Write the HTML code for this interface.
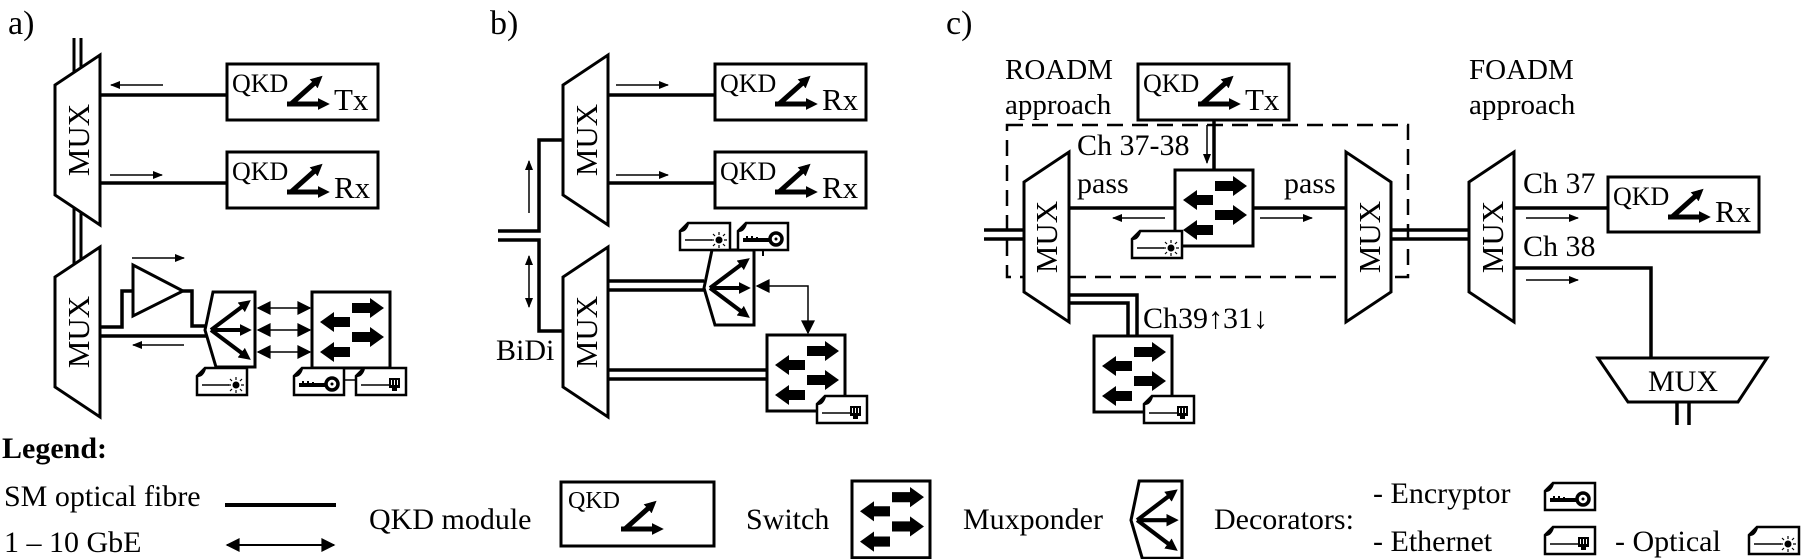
<!DOCTYPE html>
<html><head><meta charset="utf-8"><style>
html,body{margin:0;padding:0;background:#fff;}
svg{display:block;font-family:"Liberation Serif",serif;}
</style></head><body>
<svg width="1804" height="559" viewBox="0 0 1804 559" xmlns="http://www.w3.org/2000/svg">
<defs>
<marker id="ah" viewBox="0 0 10 8" refX="9" refY="4" markerWidth="12" markerHeight="8" markerUnits="userSpaceOnUse" orient="auto-start-reverse"><path d="M0,0 L10,4 L0,8 Z" fill="#000"/></marker>
<marker id="ah2" viewBox="0 0 10 10" refX="9" refY="5" markerWidth="16" markerHeight="14" markerUnits="userSpaceOnUse" orient="auto-start-reverse"><path d="M0,0 L10,5 L0,10 Z" fill="#000"/></marker>
<marker id="fh" viewBox="0 0 10 10" refX="6" refY="5" markerWidth="12" markerHeight="12" markerUnits="userSpaceOnUse" orient="auto"><path d="M0,0 L10,5 L0,10 Z" fill="#000"/></marker>
<g id="qa">
<path d="M64,40 L92,15" stroke="#000" stroke-width="5" fill="none" marker-end="url(#fh)"/>
<path d="M60,40 L98,40" stroke="#000" stroke-width="5" fill="none" marker-end="url(#fh)"/>
</g>
<g id="sw">
<rect x="0" y="0" width="78" height="76" fill="#fff" stroke="#000" stroke-width="3"/>
<path d="M40,11 H58 V6 L72,16 L58,26 V21 H40 Z M40,40 H58 V35 L72,45 L58,55 V50 H40 Z" fill="#000"/>
<path d="M38,25 H22 V20 L8,30 L22,40 V35 H38 Z M38,55 H22 V50 L8,60 L22,70 V65 H38 Z" fill="#000"/>
</g>
<g id="mp">
<path d="M8,0 H50 V75 H11 L0,38 Z" fill="#fff" stroke="#000" stroke-width="3"/>
<path d="M6,38 L42,11" stroke="#000" stroke-width="4" fill="none" marker-end="url(#fh)"/>
<path d="M6,38 L42,38" stroke="#000" stroke-width="4" fill="none" marker-end="url(#fh)"/>
<path d="M6,38 L42,65" stroke="#000" stroke-width="4" fill="none" marker-end="url(#fh)"/>
</g>
<path id="dframe" d="M9,1 H51 V28 H1 V9 Z M1,9 Q7,9 9,1" fill="#fff" stroke="#000" stroke-width="2.5"/>
<g id="opt"><use href="#dframe"/><path d="M6,18 H33" stroke="#000" stroke-width="1.5"/><circle cx="40" cy="18" r="3.5" fill="#000"/><path d="M40,10 V13 M40,23 V26 M32,18 H35 M45,18 H48 M34,12 L36,14 M44,22 L46,24 M46,12 L44,14 M34,24 L36,22" stroke="#000" stroke-width="1.2"/></g>
<g id="key"><use href="#dframe"/><path d="M6,18 H32" stroke="#000" stroke-width="4"/><path d="M10,18 V14 M15,18 V14 M20,18 V15" stroke="#000" stroke-width="2"/><circle cx="39" cy="17" r="6" fill="#fff" stroke="#000" stroke-width="3.5"/><circle cx="39" cy="17" r="1.5" fill="#000"/></g>
<g id="eth"><use href="#dframe"/><path d="M6,18 H34" stroke="#000" stroke-width="1.5"/><rect x="34" y="11" width="11" height="10" fill="#000"/><rect x="37" y="21" width="5" height="3" fill="#000"/><path d="M36.5,13 V18 M39.5,13 V18 M42.5,13 V18" stroke="#fff" stroke-width="1"/></g>
</defs>

<g font-size="34"><text x="8" y="34">a)</text><text x="490" y="34">b)</text><text x="946" y="34">c)</text></g>

<!-- ===== Panel a ===== -->
<g stroke="#000" fill="none">
<path d="M74,38 V270 M81,38 V270" stroke-width="3"/>
<path d="M100,55 V225 L55,195 V85 Z" fill="#fff" stroke-width="3"/>
<path d="M100,247 V417 L55,387 V277 Z" fill="#fff" stroke-width="3"/>
<path d="M100,95 H227 M100,183 H227" stroke-width="3.5"/>
<rect x="227" y="64" width="151" height="56" fill="#fff" stroke-width="3"/>
<rect x="227" y="152" width="151" height="56" fill="#fff" stroke-width="3"/>
<path d="M100,327 H122 V291 H133 M183,291 H192 V326 H205 M100,336 H206" stroke-width="3.5"/>
<path d="M133,265 V316 L183,291 Z" fill="#fff" stroke-width="3"/>
</g>
<g stroke="#000" stroke-width="1.5">
<line x1="163" y1="85" x2="111" y2="85" marker-end="url(#ah)"/>
<line x1="110" y1="175" x2="162" y2="175" marker-end="url(#ah)"/>
<line x1="132" y1="258" x2="184" y2="258" marker-end="url(#ah)"/>
<line x1="184" y1="345" x2="133" y2="345" marker-end="url(#ah)"/>
<line x1="258" y1="308" x2="310" y2="308" marker-start="url(#ah2)" marker-end="url(#ah2)"/>
<line x1="258" y1="330" x2="310" y2="330" marker-start="url(#ah2)" marker-end="url(#ah2)"/>
<line x1="258" y1="352" x2="310" y2="352" marker-start="url(#ah2)" marker-end="url(#ah2)"/>
<line x1="345" y1="380" x2="356" y2="380"/>
</g>
<use href="#qa" x="227" y="64"/><use href="#qa" x="227" y="152"/>
<text x="232" y="92" font-size="26">QKD</text><text x="334" y="110" font-size="31">Tx</text>
<text x="232" y="180" font-size="26">QKD</text><text x="334" y="198" font-size="31">Rx</text>
<text transform="translate(89,140) rotate(-90)" font-size="31" text-anchor="middle">MUX</text>
<text transform="translate(89,332) rotate(-90)" font-size="31" text-anchor="middle">MUX</text>
<use href="#mp" x="205" y="292"/>
<use href="#sw" x="312" y="292"/>
<use href="#opt" x="196" y="367"/><use href="#key" x="293" y="367"/><use href="#eth" x="355" y="367"/>

<!-- ===== Panel b ===== -->
<g stroke="#000" fill="none">
<path d="M498,231 H539 V140 H563 M498,240 H539 V331 H563" stroke-width="3.5"/>
<path d="M608,55 V225 L563,195 V85 Z" fill="#fff" stroke-width="3"/>
<path d="M608,247 V417 L563,387 V277 Z" fill="#fff" stroke-width="3"/>
<path d="M608,95 H715 M608,183 H715" stroke-width="3.5"/>
<path d="M608,281 H704 M608,290 H706 M608,370 H767 M608,379 H767" stroke-width="3.5"/>
<rect x="715" y="64" width="151" height="56" fill="#fff" stroke-width="3"/>
<rect x="715" y="152" width="151" height="56" fill="#fff" stroke-width="3"/>
<path d="M731,250 V256 M763,250 V256" stroke-width="2"/>
</g>
<g stroke="#000" stroke-width="1.5" fill="none">
<line x1="616" y1="85" x2="668" y2="85" marker-end="url(#ah)"/>
<line x1="616" y1="175" x2="668" y2="175" marker-end="url(#ah)"/>
<line x1="529" y1="213" x2="529" y2="161" marker-end="url(#ah)"/>
<line x1="529" y1="256" x2="529" y2="307" marker-start="url(#ah)" marker-end="url(#ah)"/>
<path d="M757,286 H808 V333" marker-start="url(#ah2)" marker-end="url(#ah2)"/>
</g>
<use href="#qa" x="715" y="64"/><use href="#qa" x="715" y="152"/>
<text x="720" y="92" font-size="26">QKD</text><text x="822" y="110" font-size="31">Rx</text>
<text x="720" y="180" font-size="26">QKD</text><text x="822" y="198" font-size="31">Rx</text>
<text transform="translate(597,140) rotate(-90)" font-size="31" text-anchor="middle">MUX</text>
<text transform="translate(597,332) rotate(-90)" font-size="31" text-anchor="middle">MUX</text>
<text x="496" y="360" font-size="30">BiDi</text>
<use href="#mp" x="704" y="250"/>
<use href="#opt" x="679" y="222"/><use href="#key" x="737" y="222"/>
<use href="#sw" x="767" y="335"/>
<use href="#eth" x="816" y="395"/>

<!-- ===== Panel c ===== -->
<text x="1005" y="79" font-size="29">ROADM</text><text x="1005" y="114" font-size="29">approach</text>
<text x="1469" y="79" font-size="29">FOADM</text><text x="1469" y="114" font-size="29">approach</text>
<g stroke="#000" fill="none">
<rect x="1007" y="125" width="401" height="152" stroke-width="2.5" stroke-dasharray="16,9"/>
<path d="M984,230 H1024 M984,239 H1024 M1391,230 H1469 M1391,239 H1469" stroke-width="3.5"/>
<path d="M1069,152 V322 L1024,292 V182 Z" fill="#fff" stroke-width="3"/>
<path d="M1346,152 V322 L1391,292 V182 Z" fill="#fff" stroke-width="3"/>
<path d="M1214,120 V170" stroke-width="3.5"/>
<path d="M1069,208 H1175 M1252,208 H1346" stroke-width="3.5"/>
<path d="M1069,295 H1137 V335 M1069,303 H1128 V335" stroke-width="3.5"/>
<path d="M1514,152 V322 L1469,292 V182 Z" fill="#fff" stroke-width="3"/>
<path d="M1514,208 H1608 M1514,268 H1651 V358" stroke-width="3.5"/>
<path d="M1598,358 H1767 L1738,402 H1628 Z" fill="#fff" stroke-width="3"/>
<path d="M1677,402 V425 M1689,402 V425" stroke-width="3.5"/>
</g>
<rect x="1138" y="64" width="151" height="56" fill="#fff" stroke="#000" stroke-width="3"/>
<rect x="1608" y="177" width="151" height="55" fill="#fff" stroke="#000" stroke-width="3"/>
<use href="#qa" x="1138" y="64"/><use href="#qa" x="1608" y="177"/>
<text x="1143" y="92" font-size="26">QKD</text><text x="1245" y="110" font-size="31">Tx</text>
<text x="1613" y="205" font-size="26">QKD</text><text x="1715" y="222" font-size="31">Rx</text>
<g stroke="#000" stroke-width="1.5">
<line x1="1207" y1="125" x2="1207" y2="163" marker-end="url(#ah)"/>
<line x1="1165" y1="218" x2="1113" y2="218" marker-end="url(#ah)"/>
<line x1="1260" y1="218" x2="1312" y2="218" marker-end="url(#ah)"/>
<line x1="1526" y1="218" x2="1578" y2="218" marker-end="url(#ah)"/>
<line x1="1526" y1="280" x2="1578" y2="280" marker-end="url(#ah)"/>
</g>
<text x="1077" y="155" font-size="30">Ch 37-38</text>
<text x="1077" y="193" font-size="30">pass</text><text x="1284" y="193" font-size="30">pass</text>
<text x="1143" y="328" font-size="30">Ch39↑31↓</text>
<text x="1523" y="193" font-size="30">Ch 37</text><text x="1523" y="256" font-size="30">Ch 38</text>
<text transform="translate(1057,237) rotate(-90)" font-size="31" text-anchor="middle">MUX</text>
<text transform="translate(1380,237) rotate(-90)" font-size="31" text-anchor="middle">MUX</text>
<text transform="translate(1503,237) rotate(-90)" font-size="31" text-anchor="middle">MUX</text>
<text x="1683" y="391" font-size="30" text-anchor="middle">MUX</text>
<use href="#sw" x="1175" y="170"/>
<use href="#opt" x="1131" y="230"/>
<use href="#sw" x="1094" y="336"/>
<use href="#eth" x="1143" y="395"/>

<!-- ===== Legend ===== -->
<text x="2" y="458" font-size="30" font-weight="bold">Legend:</text>
<text x="4" y="506" font-size="30">SM optical fibre</text>
<text x="4" y="552" font-size="30">1 – 10 GbE</text>
<line x1="225" y1="505" x2="336" y2="505" stroke="#000" stroke-width="4"/>
<line x1="227" y1="545" x2="334" y2="545" stroke="#000" stroke-width="2" marker-start="url(#ah2)" marker-end="url(#ah2)"/>
<text x="369" y="529" font-size="30">QKD module</text>
<rect x="561" y="482" width="153" height="64" fill="#fff" stroke="#000" stroke-width="3"/>
<text x="568" y="508" font-size="24">QKD</text>
<g transform="translate(561,489)"><use href="#qa"/></g>
<text x="746" y="529" font-size="30">Switch</text>
<use href="#sw" transform="translate(852,481) scale(1,1.01)"/>
<text x="963" y="529" font-size="30">Muxponder</text>
<use href="#mp" transform="translate(1131,481) scale(1.02,1.03)"/>
<text x="1214" y="529" font-size="30">Decorators:</text>
<text x="1373" y="503" font-size="30">- Encryptor</text>
<text x="1373" y="551" font-size="30">- Ethernet</text>
<text x="1615" y="551" font-size="30">- Optical</text>
<use href="#key" x="1544" y="482"/>
<use href="#eth" x="1544" y="526"/>
<use href="#opt" x="1748" y="526"/>
</svg>
</body></html>
